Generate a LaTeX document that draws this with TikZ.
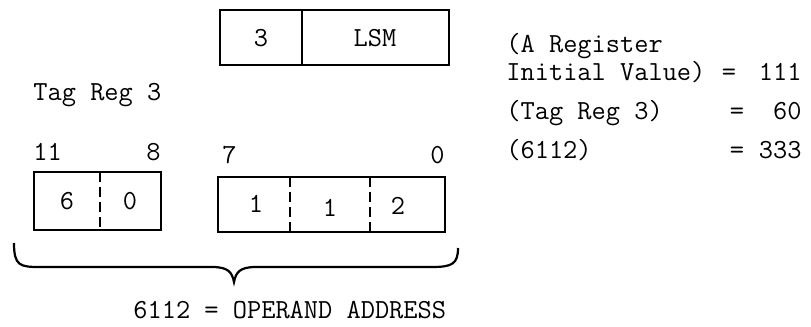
\documentclass[tikz,border=0pt]{standalone}
\begin{document}
\begin{tikzpicture}[x=0.5pt,y=-0.5pt]
\tikzstyle{reg}=[line width=1pt, draw=black]
\tikzstyle{split}=[line width=0.9pt, dash pattern=on 5pt off 2.5pt]
\tikzstyle{tt}=[font=\fontsize{13.8}{16}\selectfont\ttfamily, inner sep=0pt]
\useasboundingbox (0,0) rectangle (811,327);

% Instruction word
\draw[reg] (220,10) rectangle (449,65);
\draw[reg] (302,10) -- (302,65);
\node[tt] (tagno) at (261,38) {3};
\node[tt] (op) at (375,38) {LSM};

% Tag register
\node[tt, anchor=base west] (tagname) at (33,100) {Tag Reg 3};
\node[tt, anchor=base west] (b11) at (33,160) {11};
\node[tt, anchor=base east] (b8) at (161,160) {8};
\draw[reg] (34,172) rectangle (161,230);
\draw[split] (100,172) -- (100,230);
\node[tt] (d6) at (67,201) {6};
\node[tt] (d0) at (130,201) {0};

% Address field
\node[tt, anchor=base west] (b7) at (222,163) {7};
\node[tt, anchor=base east] (b0) at (445,163) {0};
\draw[reg] (218,177) rectangle (445,232);
\draw[split] (290,177) -- (290,232);
\draw[split] (370,177) -- (370,232);
\node[tt] (a1) at (256,204) {1};
\node[tt] (a2) at (330,208) {1};
\node[tt] (a3) at (398,206) {2};

% Brace
\draw[line width=1.1pt] (14,243) .. controls (14,266) and (20,267) .. (40,267) -- (212,267)
  .. controls (228,267) and (232,272) .. (234,282) .. controls (236,272) and (240,267) .. (256,267)
  -- (432,267) .. controls (452,267) and (458,264) .. (458,248);
\node[tt, anchor=base west] (addr) at (133,318) {6112 = OPERAND ADDRESS};

% Values
\node[tt, anchor=base west] (areg) at (506,52) {(A Register};
\node[tt, anchor=base west] (ainit) at (506,80) {Initial Value)};
\node[tt, anchor=base west] (tagval) at (506,119) {(Tag Reg 3)};
\node[tt, anchor=base west] (memval) at (506,158) {(6112)};
\foreach \x/\y/\v in {729/80/111,737/119/60,737/158/333}{
  \node[tt] at (\x,\y-5) {=};
  \node[tt, anchor=base east] at (802,\y) {\v};
}
\end{tikzpicture}
\end{document}
